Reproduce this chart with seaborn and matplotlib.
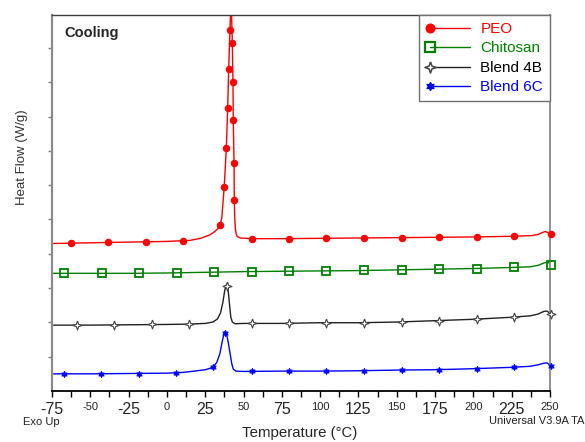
import matplotlib
matplotlib.use("Agg")
import matplotlib.pyplot as plt
import seaborn as sns
import pandas as pd
from matplotlib.lines import Line2D
from matplotlib.legend_handler import HandlerLine2DCompound

# ---------------- data ----------------
series_names = ["PEO", "Chitosan", "Blend 4B", "Blend 6C"]

peo_t = [-74, -50, -25, 0, 15, 22, 28, 31, 33.5, 34.6, 35.8, 37.4, 38.75, 39.66, 40.3,
         41.17, 41.85, 42.67, 43.1, 43.3, 43.8, 43.97, 44.3, 44.7, 45.2, 46, 48, 55, 75,
         100, 125, 150, 175, 200, 225, 238, 242, 245, 247, 249, 250.5]
peo_hf = [4.30, 4.32, 4.34, 4.36, 4.39, 4.45, 4.55, 4.64, 4.74, 4.84, 5.04, 5.95, 7.08, 8.25, 9.39,
          10.52, 11.55, 10.15, 9.01, 7.90, 6.65, 5.57, 5.0, 4.72, 4.58, 4.50, 4.46, 4.44, 4.44,
          4.45, 4.46, 4.47, 4.48, 4.49, 4.51, 4.53, 4.56, 4.62, 4.65, 4.61, 4.58]
peo_mark_t = [-62.8, -38.3, -13.7, 10.7, 34.6, 37.4, 38.75, 39.66, 40.3, 41.17, 42.67, 43.1,
              43.3, 43.8, 43.97, 55.3, 79.7, 104.1, 128.6, 153.2, 177.6, 202.2, 226.2, 250.5]
peo_mark_hf = [4.31, 4.33, 4.35, 4.38, 4.84, 5.95, 7.08, 8.25, 9.39, 10.52, 10.15, 9.01,
               7.90, 6.65, 5.57, 4.44, 4.44, 4.45, 4.46, 4.47, 4.48, 4.49, 4.51, 4.58]

chi_t = [-74, -50, -25, 0, 25, 50, 75, 100, 125, 150, 175, 200, 225, 237, 242, 246, 248.5, 250.5]
chi_hf = [3.43, 3.43, 3.43, 3.44, 3.46, 3.48, 3.49, 3.50, 3.51, 3.53, 3.55, 3.57, 3.60, 3.62,
          3.66, 3.73, 3.76, 3.69]
chi_mark_t = [-67.2, -42.6, -18.2, 6.4, 30.7, 55.3, 79.7, 104.1, 128.6, 153.2, 177.6, 202.2, 226.2, 250.5]
chi_mark_hf = [3.43, 3.43, 3.43, 3.44, 3.46, 3.48, 3.49, 3.50, 3.52, 3.54, 3.56, 3.57, 3.61, 3.67]

b4_t = [-74, -50, -25, 0, 15, 25, 30, 33, 35, 36.5, 37.8, 39.0, 40.0, 40.9, 41.7, 42.7, 44.5,
        50, 75, 100, 125, 150, 175, 200, 225, 237, 242, 246, 248, 250.5]
b4_hf = [1.92, 1.92, 1.93, 1.94, 1.95, 1.97, 2.01, 2.10, 2.28, 2.58, 2.95, 3.12, 2.92, 2.50,
         2.15, 2.01, 1.96, 1.97, 1.97, 1.99, 1.99, 2.01, 2.05, 2.09, 2.15, 2.19, 2.24, 2.32, 2.33, 2.25]
b4_mark_t = [-58.9, -34.3, -9.9, 14.6, 39.0, 55.3, 79.7, 104.1, 128.6, 153.2, 177.6, 202.2, 226.2, 250.5]
b4_mark_hf = [1.92, 1.93, 1.94, 1.95, 3.06, 1.97, 1.97, 1.99, 1.99, 2.01, 2.05, 2.09, 2.15, 2.25]

b6_t = [-74, -50, -25, 0, 10, 18, 25, 28, 30.3, 32.5, 34.5, 36, 37.2, 37.9, 38.8, 39.9, 41.2,
        42.3, 43.3, 45, 50, 75, 100, 125, 150, 175, 200, 225, 237, 242, 246, 248, 250.5]
b6_hf = [0.50, 0.50, 0.51, 0.52, 0.54, 0.58, 0.62, 0.66, 0.71, 0.83, 1.08, 1.42, 1.67, 1.73,
         1.68, 1.45, 1.10, 0.80, 0.64, 0.58, 0.57, 0.58, 0.58, 0.59, 0.61, 0.62, 0.65, 0.69,
         0.72, 0.76, 0.81, 0.82, 0.74]
b6_mark_t = [-67.4, -43.0, -18.4, 5.9, 30.3, 37.9, 55.3, 79.7, 104.1, 128.6, 153.2, 177.6, 202.2, 226.2, 250.5]
b6_mark_hf = [0.50, 0.51, 0.51, 0.53, 0.71, 1.70, 0.57, 0.58, 0.58, 0.59, 0.61, 0.62, 0.65, 0.69, 0.74]

xtick_values = [-75, -50, -25, 0, 25, 50, 75, 100, 125, 150, 175, 200, 225, 250]
xtick_labels = ["-75", "-50", "-25", "0", "25", "50", "75", "100", "125", "150", "175", "200", "225", "250"]
xminor_values = [-62.5, -37.5, -12.5, 12.5, 37.5, 62.5, 87.5, 112.5, 137.5, 162.5, 187.5, 212.5, 237.5]
ytick_values = [1, 2, 3, 4, 5, 6, 7, 8, 9, 10]

# ---------------- style ----------------
sns.set_style("white")
plt.rcParams["font.family"] = ["Liberation Sans", "DejaVu Sans"]

W, H = 585, 442
fig = plt.figure(figsize=(W / 100, H / 100), dpi=100)
ax = fig.add_axes([52 / W, 1 - 391 / H, (550 - 52) / W, (391 - 15) / H])

star4 = [(0, 1), (0.26, 0.26), (1, 0), (0.26, -0.26), (0, -1), (-0.26, -0.26), (-1, 0), (-0.26, 0.26), (0, 1)]

styles = {
    "PEO": dict(color="#ff0000", marker="o", ms=4.6, mfc="#ff0000", mec="#ff0000", mew=0.8),
    "Chitosan": dict(color="#008000", marker="s", ms=5.2, mfc="none", mec="#008000", mew=1.3),
    "Blend 4B": dict(color="#222222", marker=star4, ms=6.5, mfc="white", mec="#444444", mew=0.8),
    "Blend 6C": dict(color="#0000ff", marker=(6, 1, 0), ms=4.6, mfc="#0000ff", mec="#0000ff", mew=0.6),
}
curves = {
    "PEO": (peo_t, peo_hf, peo_mark_t, peo_mark_hf),
    "Chitosan": (chi_t, chi_hf, chi_mark_t, chi_mark_hf),
    "Blend 4B": (b4_t, b4_hf, b4_mark_t, b4_mark_hf),
    "Blend 6C": (b6_t, b6_hf, b6_mark_t, b6_mark_hf),
}

for name in series_names:
    t, hf, mt, mhf = curves[name]
    st = styles[name]
    df = pd.DataFrame({"T": t, "HF": hf})
    sns.lineplot(data=df, x="T", y="HF", ax=ax, color=st["color"], lw=1.0,
                 sort=False, estimator=None, legend=False)
    dm = pd.DataFrame({"T": mt, "HF": mhf})
    sns.lineplot(data=dm, x="T", y="HF", ax=ax, linestyle="none", marker=st["marker"],
                 markersize=st["ms"], markerfacecolor=st["mfc"], markeredgecolor=st["mec"],
                 markeredgewidth=st["mew"], color=st["color"], sort=False, estimator=None,
                 legend=False, clip_on=False, zorder=3)

ax.set_xlim(-75, 250)
ax.set_ylim(0, 10.96)
ax.set_xlabel("")
ax.set_ylabel("")

ax.set_xticks(xtick_values)
ax.set_xticklabels(xtick_labels)
ax.set_xticks(xminor_values, minor=True)
for i, lbl in enumerate(ax.get_xticklabels()):
    lbl.set_fontsize(11.5 if i % 2 == 0 else 8)
ax.tick_params(axis="x", which="both", direction="out", length=4, width=1, color="black",
               pad=4, bottom=True)
ax.set_yticks(ytick_values)
ax.set_yticklabels([])
ax.tick_params(axis="y", which="major", direction="out", length=3, width=1, color="#808080",
               left=True)

for side, col, lw in [("left", "#8a8a8a", 1.6), ("bottom", "#000000", 1.3),
                      ("top", "#404040", 1.0), ("right", "#8a8a8a", 1.3)]:
    ax.spines[side].set_color(col)
    ax.spines[side].set_linewidth(lw)
    ax.spines[side].set_visible(True)

ax.text(64 / W, 1 - 33 / H, "Cooling", transform=fig.transFigure, fontsize=10.5,
        fontweight="bold", ha="left", va="center")
fig.text(22 / W, 1 - 157 / H, "Heat Flow (W/g)", rotation=90, fontsize=9.5,
         color="#333333", ha="center", va="center")
fig.text(300 / W, 1 - 433 / H, "Temperature (°C)", fontsize=10.8, ha="center", va="center")
fig.text(23 / W, 1 - 422 / H, "Exo Up", fontsize=8, ha="left", va="center", color="#222222")
fig.text(584 / W, 1 - 421 / H, "Universal V3.9A TA", fontsize=8, ha="right", va="center",
         color="#222222")


class LeftMarkerHandler(HandlerLine2DCompound):
    def get_xdata(self, legend, xdescent, ydescent, width, height, fontsize):
        return [-xdescent + 3, -xdescent + width], [-xdescent + 3]


handles = []
for name in series_names:
    st = styles[name]
    handles.append(Line2D([0], [0], color=st["color"], lw=1.0, marker=st["marker"],
                          ms=st["ms"] + 1.5, mfc=st["mfc"], mec=st["mec"], mew=st["mew"] + 0.3))
leg = ax.legend(handles, series_names, loc="upper right", bbox_to_anchor=(1, 1),
                borderaxespad=0, fancybox=False, framealpha=1, edgecolor="#707070",
                fontsize=11, handlelength=2.9, handletextpad=0.7, labelspacing=0.36,
                borderpad=0.45, handler_map={Line2D: LeftMarkerHandler()})
leg.get_frame().set_linewidth(1.0)
for txt, name in zip(leg.get_texts(), series_names):
    txt.set_color({"PEO": "#ff0000", "Chitosan": "#008000", "Blend 4B": "#000000",
                   "Blend 6C": "#0000ff"}[name])

fig.savefig("out.png", dpi=100)
